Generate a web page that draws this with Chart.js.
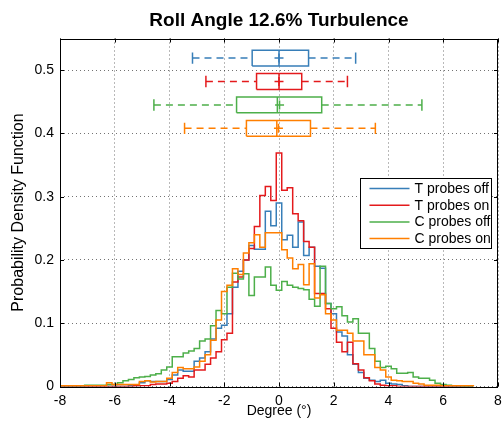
<!DOCTYPE html>
<html>
<head>
<meta charset="utf-8">
<script src="https://cdn.jsdelivr.net/npm/chart.js@4.4.1/dist/chart.umd.min.js"></script>
<style>
  html, body { margin: 0; padding: 0; background: #fff; }
  #wrap { width: 504px; height: 428px; }
</style>
</head>
<body>
<div id="wrap"><canvas id="rollChart" width="504" height="428"></canvas></div>
<script>
// histogram bins: 0.2 deg wide, centres -8.0 .. 7.0
const binWidth = 0.2;
const firstCentre = -8.0;
const binCentres = Array.from({ length: 76 }, (_, i) => +(firstCentre + i * binWidth).toFixed(1));

const chartTitle = 'Roll Angle 12.6% Turbulence';
const seriesNames = ['T probes off', 'T probes on', 'C probes off', 'C probes on'];
const seriesColors = ['#377eb8', '#e41a1c', '#4daf4a', '#ff7f00'];

// probability density per bin
const tProbesOff = [
    0, 0, 0, 0, 0, 0, 0, 0, 0, 0,
    0, 0, 0, 0.001, 0.001, 0.006, 0.009, 0.008, 0.008, 0.008,
    0.011, 0.018, 0.026, 0.024, 0.024, 0.040, 0.045, 0.055, 0.075, 0.092,
    0.097, 0.115, 0.157, 0.182, 0.200, 0.223, 0.217, 0.217, 0.277, 0.254,
    0.290, 0.232, 0.239, 0.220, 0.260, 0.207, 0.220, 0.190, 0.187, 0.131,
    0.115, 0.086, 0.080, 0.050, 0.035, 0.022, 0.013, 0.010, 0.008, 0.010,
    0.005, 0.004, 0.003, 0.001, 0, 0, 0, 0, 0, 0,
    0, 0, 0, 0, 0, 0
];
const tProbesOn = [
    0, 0, 0, 0, 0, 0, 0, 0, 0, 0,
    0, 0, 0, 0, 0.001, 0.001, 0.001, 0.003, 0.004, 0.004,
    0.005, 0.008, 0.013, 0.017, 0.015, 0.026, 0.026, 0.035, 0.045, 0.055,
    0.074, 0.084, 0.165, 0.173, 0.200, 0.218, 0.253, 0.302, 0.316, 0.294,
    0.369, 0.310, 0.314, 0.273, 0.262, 0.229, 0.220, 0.147, 0.147, 0.123,
    0.092, 0.070, 0.055, 0.070, 0.036, 0.026, 0.014, 0.009, 0.004, 0.002,
    0.001, 0.001, 0, 0, 0, 0, 0, 0, 0, 0,
    0, 0, 0, 0, 0, 0
];
const cProbesOff = [
    0.001, 0.001, 0.001, 0.001, 0.001, 0.002, 0.002, 0.002, 0.002, 0.003,
    0.003, 0.006, 0.009, 0.011, 0.014, 0.015, 0.016, 0.018, 0.020, 0.026,
    0.031, 0.047, 0.047, 0.053, 0.056, 0.060, 0.072, 0.075, 0.096, 0.120,
    0.115, 0.157, 0.179, 0.170, 0.178, 0.144, 0.173, 0.173, 0.189, 0.160,
    0.152, 0.166, 0.160, 0.157, 0.155, 0.153, 0.138, 0.127, 0.190, 0.131,
    0.123, 0.126, 0.112, 0.102, 0.107, 0.084, 0.084, 0.060, 0.040, 0.030,
    0.032, 0.028, 0.021, 0.021, 0.022, 0.015, 0.013, 0.013, 0.010, 0.005,
    0.003, 0.002, 0.001, 0.001, 0, 0
];
const cProbesOn = [
    0.001, 0.001, 0.001, 0.001, 0.001, 0.001, 0.001, 0.001, 0.001, 0.006,
    0.003, 0.003, 0.003, 0.003, 0.003, 0.008, 0.009, 0.007, 0.008, 0.008,
    0.013, 0.022, 0.030, 0.028, 0.028, 0.031, 0.040, 0.050, 0.073, 0.105,
    0.150, 0.160, 0.186, 0.177, 0.211, 0.227, 0.240, 0.220, 0.243, 0.243,
    0.243, 0.216, 0.203, 0.186, 0.193, 0.161, 0.194, 0.140, 0.145, 0.115,
    0.105, 0.089, 0.089, 0.084, 0.072, 0.072, 0.050, 0.050, 0.030, 0.026,
    0.015, 0.010, 0.009, 0.008, 0.008, 0.005, 0.004, 0.002, 0.002, 0.002,
    0.001, 0.001, 0.001, 0.001, 0.001, 0.001
];
const histValues = [tProbesOff, tProbesOn, cProbesOff, cProbesOn];

// box plot summary (degrees), one row per series
const boxRows = [0.519, 0.482, 0.445, 0.408];
const whiskerLow = [-3.16, -2.67, -4.57, -3.45];
const quart1 = [-0.98, -0.82, -1.55, -1.19];
const medians = [0.0, 0.0, -0.06, -0.08];
const quart3 = [1.08, 0.83, 1.56, 1.15];
const whiskerHigh = [2.80, 2.50, 5.22, 3.52];
const means = [0.0, 0.0, 0.02, -0.02];

const xTicks = [-8, -6, -4, -2, 0, 2, 4, 6, 8];
const yTicks = [0, 0.1, 0.2, 0.3, 0.4, 0.5];

const boxHalf = 0.0125;
const capHalf = 0.009;
const FONT = "'Liberation Sans', Arial, Helvetica, sans-serif";

function histPoints(values) {
    const pts = values.map((v, i) => ({ x: binCentres[i] - binWidth / 2, y: v }));
    pts.push({ x: binCentres[values.length - 1] + binWidth / 2, y: 0 });
    return pts;
}

const datasets = [];
histValues.forEach((vals, i) => {
    datasets.push({
        label: seriesNames[i],
        data: histPoints(vals),
        borderColor: seriesColors[i],
        borderWidth: 1.5,
        stepped: true,
        pointRadius: 0,
        fill: false,
        order: 10 - i
    });
});

seriesNames.forEach((name, i) => {
    const r = boxRows[i];
    const col = seriesColors[i];
    datasets.push({
        label: name + ' box',
        data: [
            { x: quart1[i], y: r - boxHalf }, { x: quart3[i], y: r - boxHalf },
            { x: quart3[i], y: r + boxHalf }, { x: quart1[i], y: r + boxHalf },
            { x: quart1[i], y: r - boxHalf }, { x: quart1[i], y: null },
            { x: medians[i], y: r - boxHalf }, { x: medians[i], y: r + boxHalf }
        ],
        borderColor: col, borderWidth: 1.5, pointRadius: 0, order: 4 - i
    });
    datasets.push({
        label: name + ' whisker',
        data: [
            { x: whiskerLow[i], y: r }, { x: quart1[i], y: r }, { x: quart1[i], y: null },
            { x: quart3[i], y: r }, { x: whiskerHigh[i], y: r }
        ],
        borderColor: col, borderWidth: 1.5, borderDash: [7, 5], pointRadius: 0, order: 4 - i
    });
    datasets.push({
        label: name + ' cap',
        data: [
            { x: whiskerLow[i], y: r - capHalf }, { x: whiskerLow[i], y: r + capHalf },
            { x: whiskerLow[i], y: null },
            { x: whiskerHigh[i], y: r - capHalf }, { x: whiskerHigh[i], y: r + capHalf }
        ],
        borderColor: col, borderWidth: 1.5, pointRadius: 0, order: 4 - i
    });
    datasets.push({
        label: name + ' mean',
        data: [{ x: means[i], y: r }],
        showLine: false,
        pointStyle: 'cross',
        pointRadius: 4.5,
        pointBorderWidth: 1.5,
        pointBorderColor: col,
        order: 4 - i
    });
});

// MATLAB style frame with inward ticks, title centred over the axes
const framePlugin = {
    id: 'frame',
    afterDraw(chart) {
        const { ctx, chartArea: a, scales } = chart;
        ctx.save();
        ctx.strokeStyle = '#000';
        ctx.lineWidth = 1;
        ctx.strokeRect(Math.round(a.left) + 0.5, Math.round(a.top) + 0.5,
            Math.round(a.right - a.left) - 1, Math.round(a.bottom - a.top));
        ctx.beginPath();
        xTicks.forEach(t => {
            const px = Math.round(scales.x.getPixelForValue(t)) + 0.5;
            ctx.moveTo(px, a.bottom); ctx.lineTo(px, a.bottom - 4);
            ctx.moveTo(px, a.top); ctx.lineTo(px, a.top + 4);
        });
        yTicks.forEach(t => {
            const py = Math.round(scales.y.getPixelForValue(t)) + 0.5;
            ctx.moveTo(a.left, py); ctx.lineTo(a.left + 4, py);
            ctx.moveTo(a.right, py); ctx.lineTo(a.right - 4, py);
        });
        ctx.stroke();

        ctx.fillStyle = '#000';
        ctx.font = 'bold 19px ' + FONT;
        ctx.textAlign = 'center';
        ctx.textBaseline = 'alphabetic';
        ctx.fillText(chartTitle, (a.left + a.right) / 2, a.top - 13);
        ctx.restore();
    }
};

// legend box inside the plot, right side
const legendPlugin = {
    id: 'insideLegend',
    afterDraw(chart) {
        const { ctx, chartArea: a } = chart;
        const w = 131, h = 70;
        const x0 = Math.round(a.right - 7 - w) + 0.5;
        const y0 = Math.round(a.top + 139.5) + 0.5;
        ctx.save();
        ctx.fillStyle = '#fff';
        ctx.fillRect(x0, y0, w, h);
        ctx.strokeStyle = '#000';
        ctx.lineWidth = 1;
        ctx.strokeRect(x0, y0, w, h);
        ctx.font = '14px ' + FONT;
        ctx.textBaseline = 'middle';
        seriesNames.forEach((name, i) => {
            const yy = y0 + 10 + i * 16.7;
            ctx.strokeStyle = seriesColors[i];
            ctx.lineWidth = 1.5;
            ctx.beginPath();
            ctx.moveTo(x0 + 9, yy); ctx.lineTo(x0 + 49, yy);
            ctx.stroke();
            ctx.fillStyle = '#000';
            ctx.fillText(name, x0 + 54, yy + 0.5);
        });
        ctx.restore();
    }
};

const ctx = document.getElementById('rollChart').getContext('2d');
new Chart(ctx, {
    type: 'line',
    data: { datasets: datasets },
    plugins: [framePlugin, legendPlugin],
    options: {
        responsive: false,
        animation: false,
        layout: { padding: { left: 0, right: 3, top: 38.5, bottom: 0 } },
        plugins: {
            legend: { display: false },
            tooltip: { enabled: false },
            title: { display: false }
        },
        scales: {
            x: {
                type: 'linear',
                min: -8,
                max: 8,
                afterBuildTicks: (scale) => { scale.ticks = xTicks.map(v => ({ value: v })); },
                afterFit: (scale) => {
                    scale.height = 41.5;
                    scale.paddingLeft = 0;
                    scale.paddingRight = 0;
                },
                grid: { color: 'rgba(0,0,0,0.55)', drawTicks: false, lineWidth: 1 },
                border: { display: false, dash: [1, 3] },
                ticks: {
                    color: '#000',
                    padding: 6,
                    maxRotation: 0,
                    font: { family: FONT, size: 14 },
                    callback: v => String(v)
                },
                title: {
                    display: true,
                    text: 'Degree (°)',
                    color: '#000',
                    font: { family: FONT, size: 14 },
                    padding: { top: 8, bottom: 8 }
                }
            },
            y: {
                type: 'linear',
                min: 0,
                max: 0.55,
                afterBuildTicks: (scale) => { scale.ticks = yTicks.map(v => ({ value: v })); },
                afterFit: (scale) => {
                    scale.width = 60;
                    scale.paddingTop = 0;
                },
                grid: { color: 'rgba(0,0,0,0.55)', drawTicks: false, lineWidth: 1 },
                border: { display: false, dash: [1, 3] },
                ticks: {
                    color: '#000',
                    padding: 6,
                    font: { family: FONT, size: 14 },
                    callback: v => String(+v.toFixed(1))
                },
                title: {
                    display: true,
                    text: 'Probability Density Function',
                    color: '#000',
                    font: { family: FONT, size: 16 },
                    padding: { top: 9, bottom: 9 }
                }
            }
        }
    }
});
</script>
</body>
</html>
